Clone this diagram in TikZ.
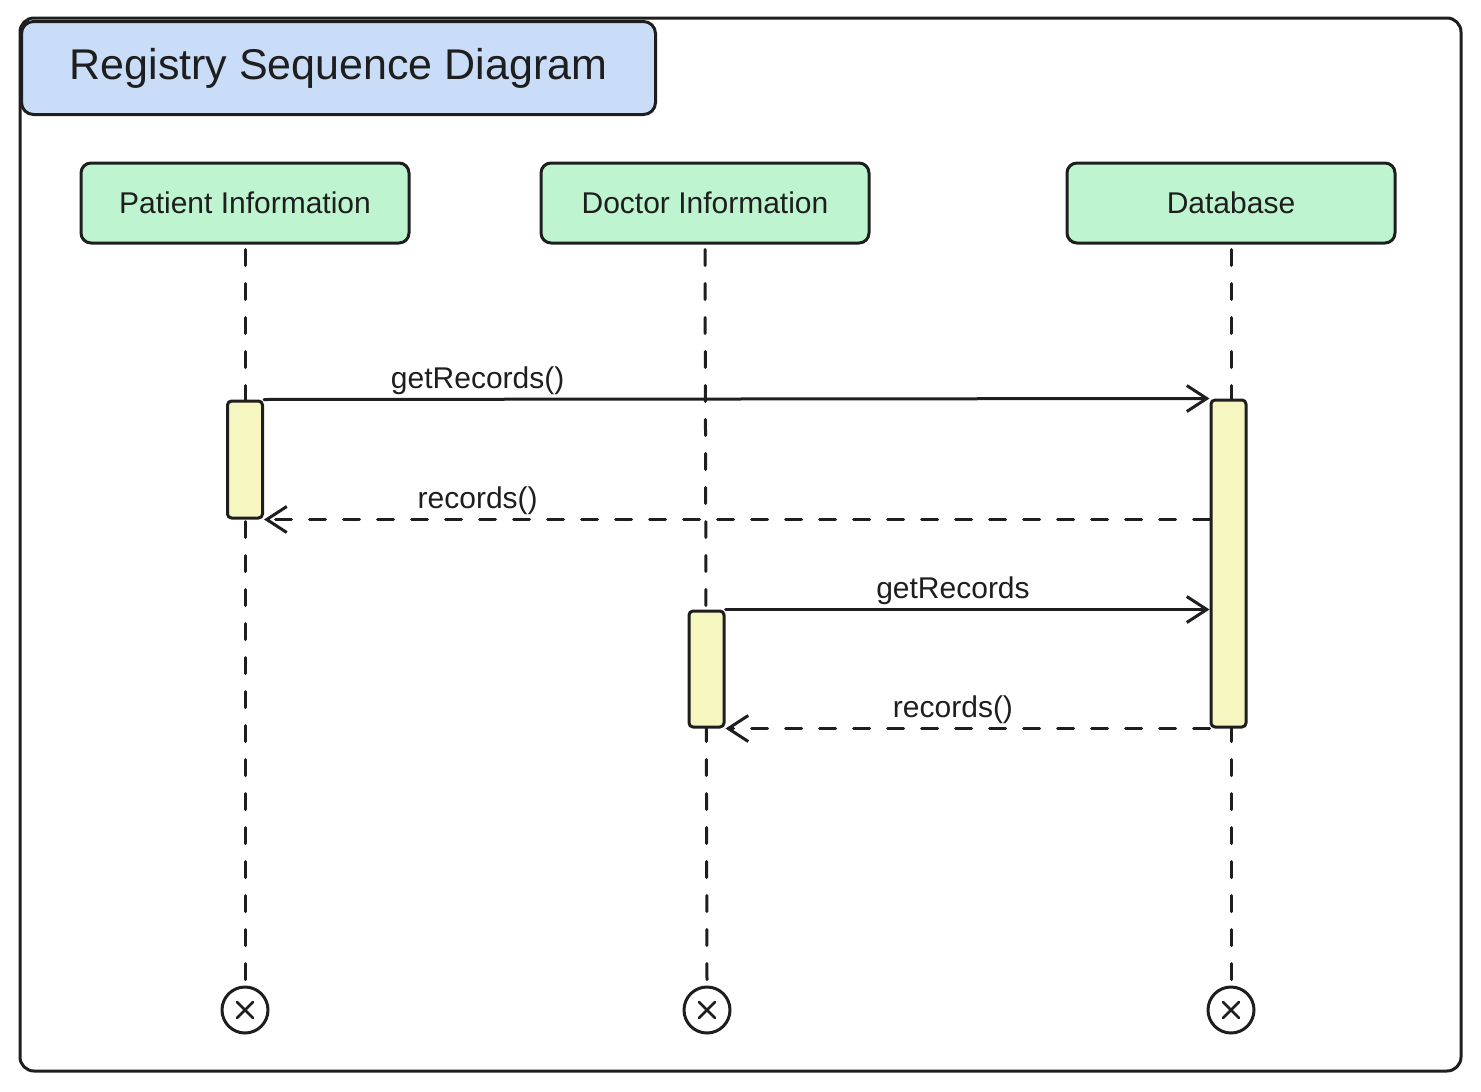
\documentclass[tikz,border=0pt]{standalone}
\usepackage{fontspec}
\setmainfont{Liberation Sans}
\usetikzlibrary{arrows.meta}
\definecolor{ink}{HTML}{1E1E1E}
\definecolor{titlefill}{HTML}{C9DCF8}
\definecolor{actorfill}{HTML}{BEF5D0}
\definecolor{actfill}{HTML}{F5F6C0}
\begin{document}
\begin{tikzpicture}[x=1pt,y=-1pt,
  line width=3pt, draw=ink, line join=round, line cap=round,
  frame/.style={draw=ink, rounded corners=14pt},
  titlebox/.style={draw=ink, fill=titlefill, rounded corners=12pt, anchor=north west,
    minimum width=634pt, minimum height=93pt, font=\fontsize{43}{50}\selectfont, text=ink},
  actor/.style={draw=ink, fill=actorfill, rounded corners=10pt,
    minimum width=328pt, minimum height=80pt, font=\fontsize{30}{36}\selectfont, text=ink},
  activation/.style={draw=ink, fill=actfill, rounded corners=4pt, minimum width=35pt,
    inner sep=0pt},
  lifeline/.style={draw=ink, dash pattern=on 16pt off 18pt},
  call/.style={draw=ink, -{Straight Barb[length=20pt,width=26pt,line width=3pt]}},
  reply/.style={call, dash pattern=on 16pt off 18pt},
  msglabel/.style={above, inner sep=3pt, font=\fontsize{30}{36}\selectfont, text=ink},
  destroy/.style={draw=ink, circle, minimum size=46pt, inner sep=0pt}
]
\useasboundingbox (0,0) rectangle (1481,1092);

% outer frame and title tab
\draw[frame] (20,18) rectangle (1461,1071);
\node[titlebox] (title) at (20,20) {Registry Sequence Diagram};

% participants
\node[actor] (patient) at (245,203) {Patient Information};
\node[actor] (doctor)  at (705,203) {Doctor Information};
\node[actor] (db)      at (1231,203) {Database};

% destruction markers
\node[destroy] (xpatient) at (245,1010) {};
\node[destroy] (xdoctor)  at (707,1010) {};
\node[destroy] (xdb)      at (1231,1010) {};
\foreach \n in {xpatient,xdoctor,xdb}{
  \draw[line width=2.6pt] ([shift={(-8,-8)}]\n.center) -- ([shift={(8,8)}]\n.center);
  \draw[line width=2.6pt] ([shift={(-8,8)}]\n.center) -- ([shift={(8,-8)}]\n.center);
}

% lifelines
\draw[lifeline] ([yshift=-5pt]patient.south) -- ([yshift=5pt]xpatient.north);
\draw[lifeline] ([yshift=-5pt]doctor.south) -- ([yshift=5pt]xdoctor.north);
\draw[lifeline] ([yshift=-5pt]db.south) -- ([yshift=5pt]xdb.north);

% activation bars
\node[activation, minimum height=117pt] (pact) at (245,459.5) {};
\node[activation, minimum height=116pt] (dact) at (706.5,669) {};
\node[activation, minimum height=327pt] (bact) at (1228.5,563.5) {};

% messages
\draw[call] (pact.north east) -- (bact.north west)
  node[msglabel, pos=0.226] {getRecords()};
\draw[reply] (bact.west |- pact.south) -- (pact.south east)
  node[msglabel, pos=0.774] {records()};
\draw[call] (dact.north east) -- (bact.west |- dact.north)
  node[msglabel, pos=0.47] {getRecords};
\draw[reply] (bact.south west) -- (dact.south east)
  node[msglabel, pos=0.53] {records()};
\end{tikzpicture}
\end{document}
